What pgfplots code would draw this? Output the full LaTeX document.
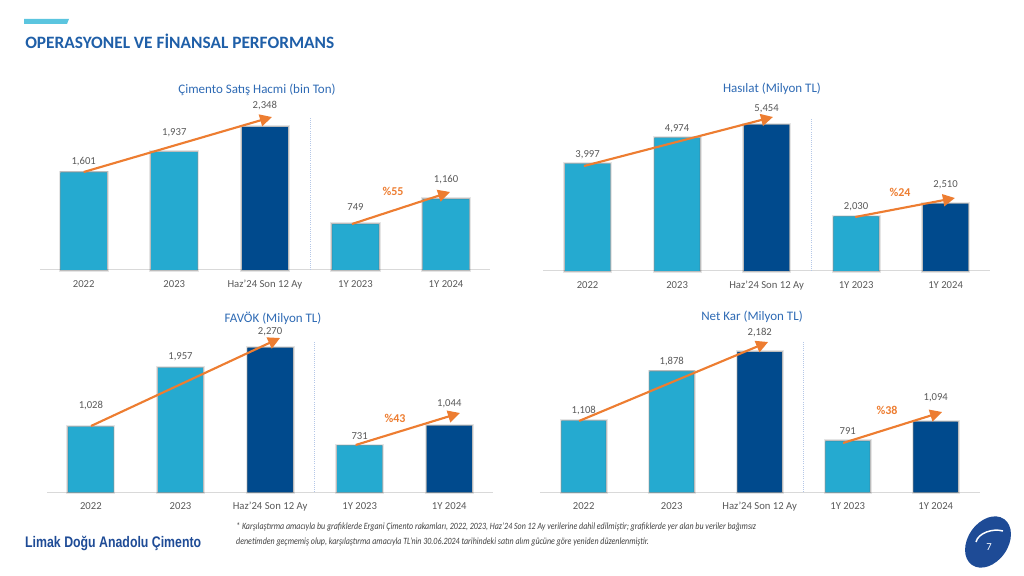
\documentclass[border=0pt]{standalone}
\usepackage{pgfplots}
\pgfplotsset{compat=1.18}
\usepackage{fontspec}
\setmainfont{Carlito}
\newfontfamily\footfont{Liberation Sans}
\usetikzlibrary{arrows.meta}
\definecolor{lightbar}{RGB}{37,170,208}
\definecolor{darkbar}{RGB}{0,74,141}
\definecolor{titleblue}{RGB}{46,106,180}
\definecolor{headblue}{RGB}{31,95,168}
\definecolor{labgray}{RGB}{89,89,89}
\definecolor{arroworange}{RGB}{237,125,49}
\definecolor{basegray}{RGB}{217,217,217}
\definecolor{sepblue}{RGB}{180,199,231}
\definecolor{cyanbar}{RGB}{91,197,223}
\definecolor{logoblue}{RGB}{30,75,150}
\definecolor{footgray}{RGB}{64,64,64}

\pgfplotsset{
  chart/.style={
    scale only axis, anchor=south west, clip=false,
    axis x line=bottom, axis y line=none,
    x axis line style={-, draw=basegray, line width=0.75pt},
    ymin=0,
    xtick={0,1,2,3,4},
    xticklabels={2022,2023,Haz'24 Son 12 Ay,1Y 2023,1Y 2024},
    major tick length=0pt,
    xticklabel style={font=\fontsize{8}{9}\selectfont, text=labgray, yshift=-4.25pt},
  },
  barstyle/.style={ybar, bar shift=0pt, draw=none,
    preaction={draw=black, draw opacity=0.10, line width=3pt},
    preaction={draw=black, draw opacity=0.18, line width=1.6pt}},
}
\tikzset{
  vlab/.style={font=\fontsize{8}{9}\selectfont, text=labgray},
  pct/.style={font=\bfseries\fontsize{9}{10}\selectfont, text=arroworange},
  arr/.style={arroworange, line width=1.6pt, -{Triangle[length=9pt,width=9pt]}},
  sepline/.style={sepblue, densely dotted, line width=0.6pt},
}

\begin{document}
\begin{tikzpicture}[x=0.75pt,y=0.75pt]
\path[use as bounding box] (0,0) rectangle (1024,575);

% header
\fill[cyanbar] (24,551) -- (67,551) -- (69,556) -- (24,556) -- cycle;
\node[anchor=west, inner sep=0pt, text=headblue, font=\bfseries\fontsize{13}{15}\selectfont] at (25,534) {OPERASYONEL VE FİNANSAL PERFORMANS};

% chart titles
\node[text=titleblue, font=\fontsize{9.75}{11}\selectfont] at (257,485) {Çimento Satış Hacmi (bin Ton)};
\node[text=titleblue, font=\fontsize{9.75}{11}\selectfont] at (772,486) {Hasılat (Milyon TL)};
\node[text=titleblue, font=\fontsize{9.75}{11}\selectfont] at (273,257) {FAVÖK (Milyon TL)};
\node[text=titleblue, font=\fontsize{9.75}{11}\selectfont] at (752,258) {Net Kar (Milyon TL)};

% Chart 1
\begin{axis}[chart, at={(30pt,228.75pt)}, width=337.5pt, height=114pt, xmin=-0.482, xmax=4.485, ymax=2496]
\addplot[barstyle, bar width=0.51, fill=lightbar] coordinates {(0,1601) (1,1937) (3,749) (4,1160)};
\addplot[barstyle, bar width=0.51, fill=darkbar] coordinates {(2,2348)};
\draw[sepline] (axis cs:2.5,0) -- (axis cs:2.5,2496);
\draw[arr] (axis cs:0,1609) -- (axis cs:2.078,2512);
\draw[arr] (axis cs:2.961,755) -- (axis cs:4.044,1281);
\node[pct] at (axis cs:3.414,1297) {\%55};
\node[vlab] at (axis cs:0,1773) {1,601};
\node[vlab] at (axis cs:1,2250) {1,937};
\node[vlab] at (axis cs:2,2693) {2,348};
\node[vlab] at (axis cs:3,1034) {749};
\node[vlab] at (axis cs:4,1478) {1,160};
\end{axis}

% Chart 2
\begin{axis}[chart, at={(407.25pt,228pt)}, width=335.25pt, height=114.75pt, xmin=-0.498, xmax=4.496, ymax=5715]
\addplot[barstyle, bar width=0.503, fill=lightbar] coordinates {(0,3997) (1,4974) (3,2030)};
\addplot[barstyle, bar width=0.503, fill=darkbar] coordinates {(2,5454) (4,2510)};
\draw[sepline] (axis cs:2.5,0) -- (axis cs:2.5,5715);
\draw[arr] (axis cs:-0.04,3922) -- (axis cs:2.071,5753);
\draw[arr] (axis cs:2.99,2017) -- (axis cs:4.104,2727);
\node[pct] at (axis cs:3.49,2951) {\%24};
\node[vlab] at (axis cs:0,4333) {3,997};
\node[vlab] at (axis cs:1,5304) {4,974};
\node[vlab] at (axis cs:2,6052) {5,454};
\node[vlab] at (axis cs:3,2391) {2,030};
\node[vlab] at (axis cs:4,3213) {2,510};
\end{axis}

% Chart 3
\begin{axis}[chart, at={(35.25pt,62.25pt)}, width=334.5pt, height=112.5pt, xmin=-0.49, xmax=4.488, ymax=2364]
\addplot[barstyle, bar width=0.502, fill=lightbar] coordinates {(0,1028) (1,1957) (3,731)};
\addplot[barstyle, bar width=0.502, fill=darkbar] coordinates {(2,2270) (4,1044)};
\draw[sepline] (axis cs:2.5,0) -- (axis cs:2.5,2364);
\draw[arr] (axis cs:0.001,1040) -- (axis cs:2.111,2427);
\draw[arr] (axis cs:2.955,741) -- (axis cs:4.119,1245);
\node[pct] at (axis cs:3.394,1166) {\%43};
\node[vlab] at (axis cs:0,1356) {1,028};
\node[vlab] at (axis cs:1,2128) {1,957};
\node[vlab] at (axis cs:2,2522) {2,270};
\node[vlab] at (axis cs:3,883) {731};
\node[vlab] at (axis cs:4,1387) {1,044};
\end{axis}

% Chart 4
\begin{axis}[chart, at={(405pt,62.25pt)}, width=330pt, height=112.5pt, xmin=-0.497, xmax=4.503, ymax=2338]
\addplot[barstyle, bar width=0.5, fill=lightbar] coordinates {(0,1108) (1,1878) (3,791)};
\addplot[barstyle, bar width=0.5, fill=darkbar] coordinates {(2,2182) (4,1094)};
\draw[sepline] (axis cs:2.5,0) -- (axis cs:2.5,2338);
\draw[arr] (axis cs:-0.053,1107) -- (axis cs:2.095,2338);
\draw[arr] (axis cs:2.947,764) -- (axis cs:4.072,1247);
\node[pct] at (axis cs:3.447,1278) {\%38};
\node[vlab] at (axis cs:0,1262) {1,108};
\node[vlab] at (axis cs:1,2026) {1,878};
\node[vlab] at (axis cs:2,2478) {2,182};
\node[vlab] at (axis cs:3,951) {791};
\node[vlab] at (axis cs:4,1465) {1,094};
\end{axis}

% footer
\node[anchor=west, inner sep=0pt, xscale=0.804, text=logoblue, font=\footfont\bfseries\fontsize{11.5}{13}\selectfont] at (25,32) {Limak Doğu Anadolu Çimento};
\node[anchor=west, inner sep=0pt, xscale=0.831, text=footgray, font=\itshape\fontsize{7.2}{8}\selectfont] at (236,48) {* Karşılaştırma amacıyla bu grafiklerde Ergani Çimento rakamları, 2022, 2023, Haz’24 Son 12 Ay verilerine dahil edilmiştir; grafiklerde yer alan bu veriler bağımsız};
\node[anchor=west, inner sep=0pt, xscale=0.831, text=footgray, font=\itshape\fontsize{7.2}{8}\selectfont] at (236,33) {denetimden geçmemiş olup, karşılaştırma amacıyla TL’nin 30.06.2024 tarihindeki satın alım gücüne göre yeniden düzenlenmiştir.};

% logo
\fill[logoblue, rotate around={-35:(988,33)}] (988,33) ellipse [x radius=15pt, y radius=21pt];
\draw[white, line width=1.1pt] (976,33) .. controls (978,42) and (993,47) .. (1003,44);
\node[text=white, font=\fontsize{8}{9}\selectfont] at (989,28) {7};
\end{tikzpicture}
\end{document}
